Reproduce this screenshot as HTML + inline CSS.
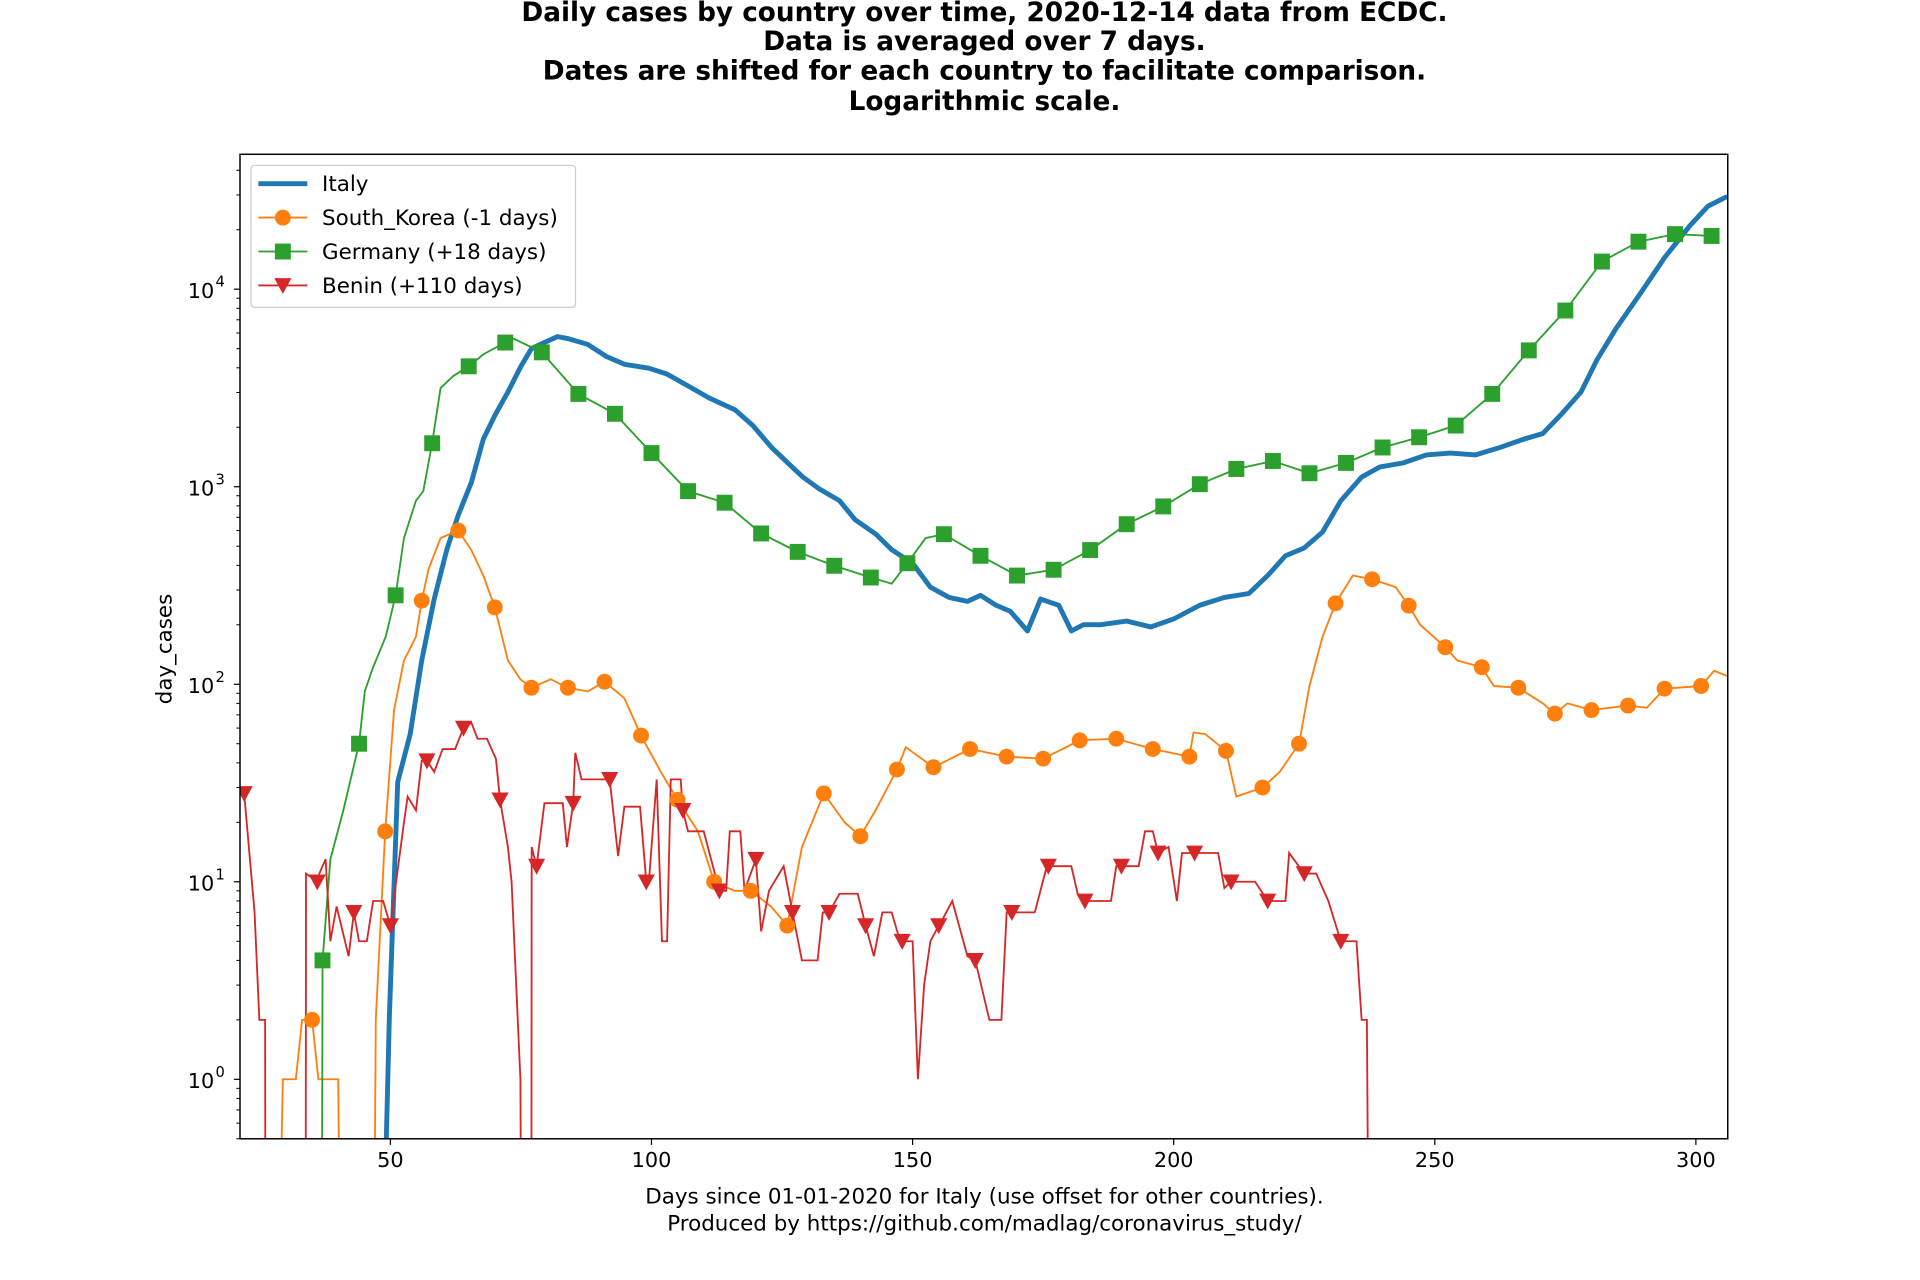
<!DOCTYPE html>
<html><head><meta charset="utf-8"><style>
html,body{margin:0;padding:0;background:#fff;}
svg{display:block;font-family:"DejaVu Sans","Liberation Sans",sans-serif;}
</style></head><body>
<svg id="chart" width="1920" height="1280" viewBox="0 0 1568 1045.33" preserveAspectRatio="none" xmlns="http://www.w3.org/2000/svg">
<rect width="1568" height="1046" fill="#fff"/>
<g font-weight="bold" font-size="21.5" text-anchor="middle" fill="#000">
<text x="804" y="17">Daily cases by country over time, 2020-12-14 data from ECDC.</text>
<text x="804" y="41">Data is averaged over 7 days.</text>
<text x="804" y="65">Dates are shifted for each country to facilitate comparison.</text>
<text x="804" y="90">Logarithmic scale.</text>
</g>
<defs><clipPath id="plotclip"><rect x="196" y="126" width="1215" height="804"/></clipPath></defs>
<g id="axes"></g>
<g id="series" clip-path="url(#plotclip)"></g>
<g id="markers" clip-path="url(#plotclip)"></g>
<rect x="196" y="126" width="1215" height="804" fill="none" stroke="#000" stroke-width="1.2"/>
<text x="140" y="530" font-size="17.5" text-anchor="middle" transform="rotate(-90 140 530)">day_cases</text>
<g font-size="17.5" text-anchor="middle">
<text x="804" y="983">Days since 01-01-2020 for Italy (use offset for other countries).</text>
<text x="804" y="1005">Produced by https://github.com/madlag/coronavirus_study/</text>
</g>
<g id="legend">
<rect x="205" y="135" width="265" height="116" rx="3" fill="#fff" fill-opacity="0.8" stroke="#ccc"/>
</g>
</svg>
<script>
// ---- data ----
const italyDays = [49,49.8,51.4,53.8,56,58.4,60.8,63,65.5,67.8,70,72.5,75,77,79.5,82,84,87.8,91.3,94.8,99.5,103,107.7,111,116,119.4,123,126.5,129,132,136,139,143,146,150,153.4,157,160.5,163,166,168.7,172,174.5,178,180.4,182.7,186,191,195.6,200,205,209.7,214.4,218,221.4,225,228.5,232,236,239.5,244,248.4,253,257.8,262.5,267,270.7,274,278,281,284.7,289.4,294,298.8,302.3,306];
const italyVals = [0.3,2.1,32,56,132,270,480,720,1050,1740,2290,3020,4070,5000,5370,5750,5620,5250,4570,4170,3980,3720,3160,2820,2450,2040,1580,1290,1120,980,850,680,575,480,410,310,275,263,282,251,234,186,270,251,186,200,200,209,195,214,251,275,288,355,447,490,590,850,1120,1260,1320,1450,1480,1450,1580,1740,1860,2290,3020,4370,6310,9550,14450,20900,26300,29500];

const koreaMarkStart = 35;
const koreaMarkVals = [2,0,18,265,600,245,96,96,103,55,26,10,9,6,28,17,37,38,47,43,42,52,53,47,43,46,30,50,257,340,250,154,122,96,71,74,78,95,98];
const koreaDays = [29,29.4,31.9,33.1,36.2,40,40.2,47,47.2,48.4,50.7,52.6,54.9,57.3,59.6,65.5,67.8,72.5,74.9,80.7,87.8,94.8,101.8,108.9,115.9,122.9,128.8,137,142.9,148.7,203.8,206,212,220.3,226,228.5,234.3,242.5,247.2,254.3,261.3,270.7,275.4,290.6,303.5,306];
const koreaVals = [0.3,1,1,2,1,1,0.3,0.3,2,8.7,74,132,174,383,550,478,355,132,106,106,92,85,36,18,9,7.5,15,20,23,48,57,56,27,36,98,174,355,310,200,132,98,80,80,76,117,110];

const germanyMarkStart = 37;
const germanyMarkVals = [4,50,282,1660,4070,5370,4790,2950,2340,1480,950,830,580,468,398,347,410,575,447,355,380,478,646,795,1030,1230,1350,1170,1320,1580,1780,2040,2950,4900,7800,13800,17400,19000,18600];
const germanyDays = [36.9,38.5,41,45.1,46.7,49.1,52.6,54.9,56.3,59.6,62,67.8,73.7,146,152.5];
const germanyVals = [0.3,13,23,92,122,174,550,850,950,3160,3630,4680,5600,323,550];

const beninMarkStart = 22;
const beninMarkVals = [28,0,10,7,6,41,60,26,12,25,33,10,23,9,13,7,7,6,5,6,4,7,12,8,12,14,14,10,8,11,5];
const beninDays = [21.5,24,24.9,26,26.05,33.8,33.85,36.4,37.6,38.5,39.7,42,44,45.5,46.7,48.6,52.6,53.3,54.9,56,58.4,60,62.4,65.5,66.7,68.5,70.2,72.5,73.2,74.9,75,77,77.05,79.5,83,83.8,85.4,86.6,90,93.6,94.8,97.8,99.5,101,102,103,103.7,105.6,107,110,114.3,115,117,117.8,121,122.5,125.3,128.8,131.8,132.8,136,139.5,142.6,144.2,146,147.6,150,151,152.2,153.4,155.8,157.6,160.5,164.7,167,168,173.4,175.7,180.4,181.6,184,188,189,193.3,194.5,196,199,200.6,201.6,208.5,209.7,215.6,218,221.4,222.1,227.3,229.6,232,235,236,237,237.2];
const beninVals = [28,7,2,2,0.3,0.3,11,11,13,5,7.5,4.2,5,5,8,8,20,27,23,41,36,47,47,64,53,53,42,15,10,1,0.3,0.3,15,25,25,15,45,33,33,13.5,24,24,10,33,5,5,33,33,18,18,9,18,18,9,5.6,9,12,4,4,7,8.7,8.7,4.2,7,7,5,5,1,3,5,6.5,8,4.2,2,2,7,7,12,12,8.7,8,8,12,12,18,18,15,8,14,14,9.3,10,8,8,14,11,8,5,5,2,2,0.3];

const xTicks = [50,100,150,200,250,300];
const yExps = [0,1,2,3,4];

// ---- scales ----
const X0=196,X1=1411,Y0=126,Y1=930;
const xMin=21.2,xMax=306.1,lMin=Math.log10(0.5),lMax=4.683;
const xs=d=>X0+(d-xMin)/(xMax-xMin)*(X1-X0);
const ys=v=>Y1-(Math.log10(v)-lMin)/(lMax-lMin)*(Y1-Y0);
const NS='http://www.w3.org/2000/svg';
function mk(tag,attrs,parent){const e=document.createElementNS(NS,tag);for(const k in attrs)e.setAttribute(k,attrs[k]);parent.appendChild(e);return e;}

const axes=document.getElementById('axes');
xTicks.forEach(t=>{
  const g=mk('g',{},axes);
  
  
  mk('line',{x1:xs(t),x2:xs(t),y1:Y1,y2:Y1+5,stroke:'#000','stroke-width':1},g);
  const tx=mk('text',{x:xs(t),y:Y1+23,'font-size':17,'text-anchor':'middle'},g);tx.textContent=t;
});
yExps.forEach(e=>{
  const v=Math.pow(10,e),y=ys(v);
  const g=mk('g',{},axes);
  
  
  mk('line',{x1:X0-5,x2:X0,y1:y,y2:y,stroke:'#000','stroke-width':1},g);
  const tx=mk('text',{x:X0-21,y:y+7,'font-size':17,'text-anchor':'end'},g);tx.textContent='10';
  const sp=mk('text',{x:X0-20,y:y-2,'font-size':12,'text-anchor':'start'},g);sp.textContent=e;
});
for(let e=-1;e<=4;e++){for(let m=2;m<=9;m++){const v=m*Math.pow(10,e);const y=ys(v);if(y<Y0||y>Y1)continue;
  mk('line',{x1:X0-3,x2:X0,y1:y,y2:y,stroke:'#000','stroke-width':0.8},axes);}}

function merged(days,vals,start,mvals){
  const pts=days.map((d,i)=>[d,vals[i]]);
  mvals.forEach((v,i)=>{if(v>0)pts.push([start+7*i,v]);});
  pts.sort((a,b)=>a[0]-b[0]);return pts;
}
function pathOf(pts){let s='';pts.forEach((p,i)=>{s+=(i?'L':'M')+xs(p[0]).toFixed(1)+','+ys(p[1]).toFixed(1);});return s;}
const series=document.getElementById('series'),markers=document.getElementById('markers');

const it=mk('path',{d:pathOf(italyDays.map((d,i)=>[d,italyVals[i]])),fill:'none',stroke:'#1f77b4','stroke-width':4,'stroke-linejoin':'round'},series);



const defs=[
 {name:'south-korea',color:'#ff7f0e',d:koreaDays,v:koreaVals,s:koreaMarkStart,m:koreaMarkVals,shape:'circle'},
 {name:'germany',color:'#2ca02c',d:germanyDays,v:germanyVals,s:germanyMarkStart,m:germanyMarkVals,shape:'square'},
 {name:'benin',color:'#d62728',d:beninDays,v:beninVals,s:beninMarkStart,m:beninMarkVals,shape:'tri'}
];
function marker(shape,x,y,color,parent){
  if(shape==='circle')return mk('circle',{cx:x,cy:y,r:6.5,fill:color},parent);
  if(shape==='square')return mk('rect',{x:x-6.5,y:y-6.5,width:13,height:13,fill:color},parent);
  return mk('path',{d:`M${x-7},${y-6}L${x+7},${y-6}L${x},${y+7}Z`,fill:color},parent);
}
defs.forEach(s=>{
  const p=mk('path',{d:pathOf(merged(s.d,s.v,s.s,s.m)),fill:'none',stroke:s.color,'stroke-width':1.5},series);
  
  
  s.m.forEach((v,i)=>{if(v<=0)return;
    const e=marker(s.shape,xs(s.s+7*i),ys(v),s.color,markers);
    
    
  });
});

const legend=document.getElementById('legend');
const items=[['Italy','#1f77b4',null],['South_Korea (-1 days)','#ff7f0e','circle'],['Germany (+18 days)','#2ca02c','square'],['Benin (+110 days)','#d62728','tri']];
items.forEach((it2,i)=>{
  const y=150+i*27.7;
  const g=mk('g',{},legend);
  
  
  mk('line',{x1:211,x2:251,y1:y,y2:y,stroke:it2[1],'stroke-width':it2[2]?1.5:4},g);
  if(it2[2])marker(it2[2],231,y,it2[1],g);
  const t=mk('text',{x:263,y:y+6,'font-size':17.5},g);t.textContent=it2[0];
});
</script>
</body></html>
